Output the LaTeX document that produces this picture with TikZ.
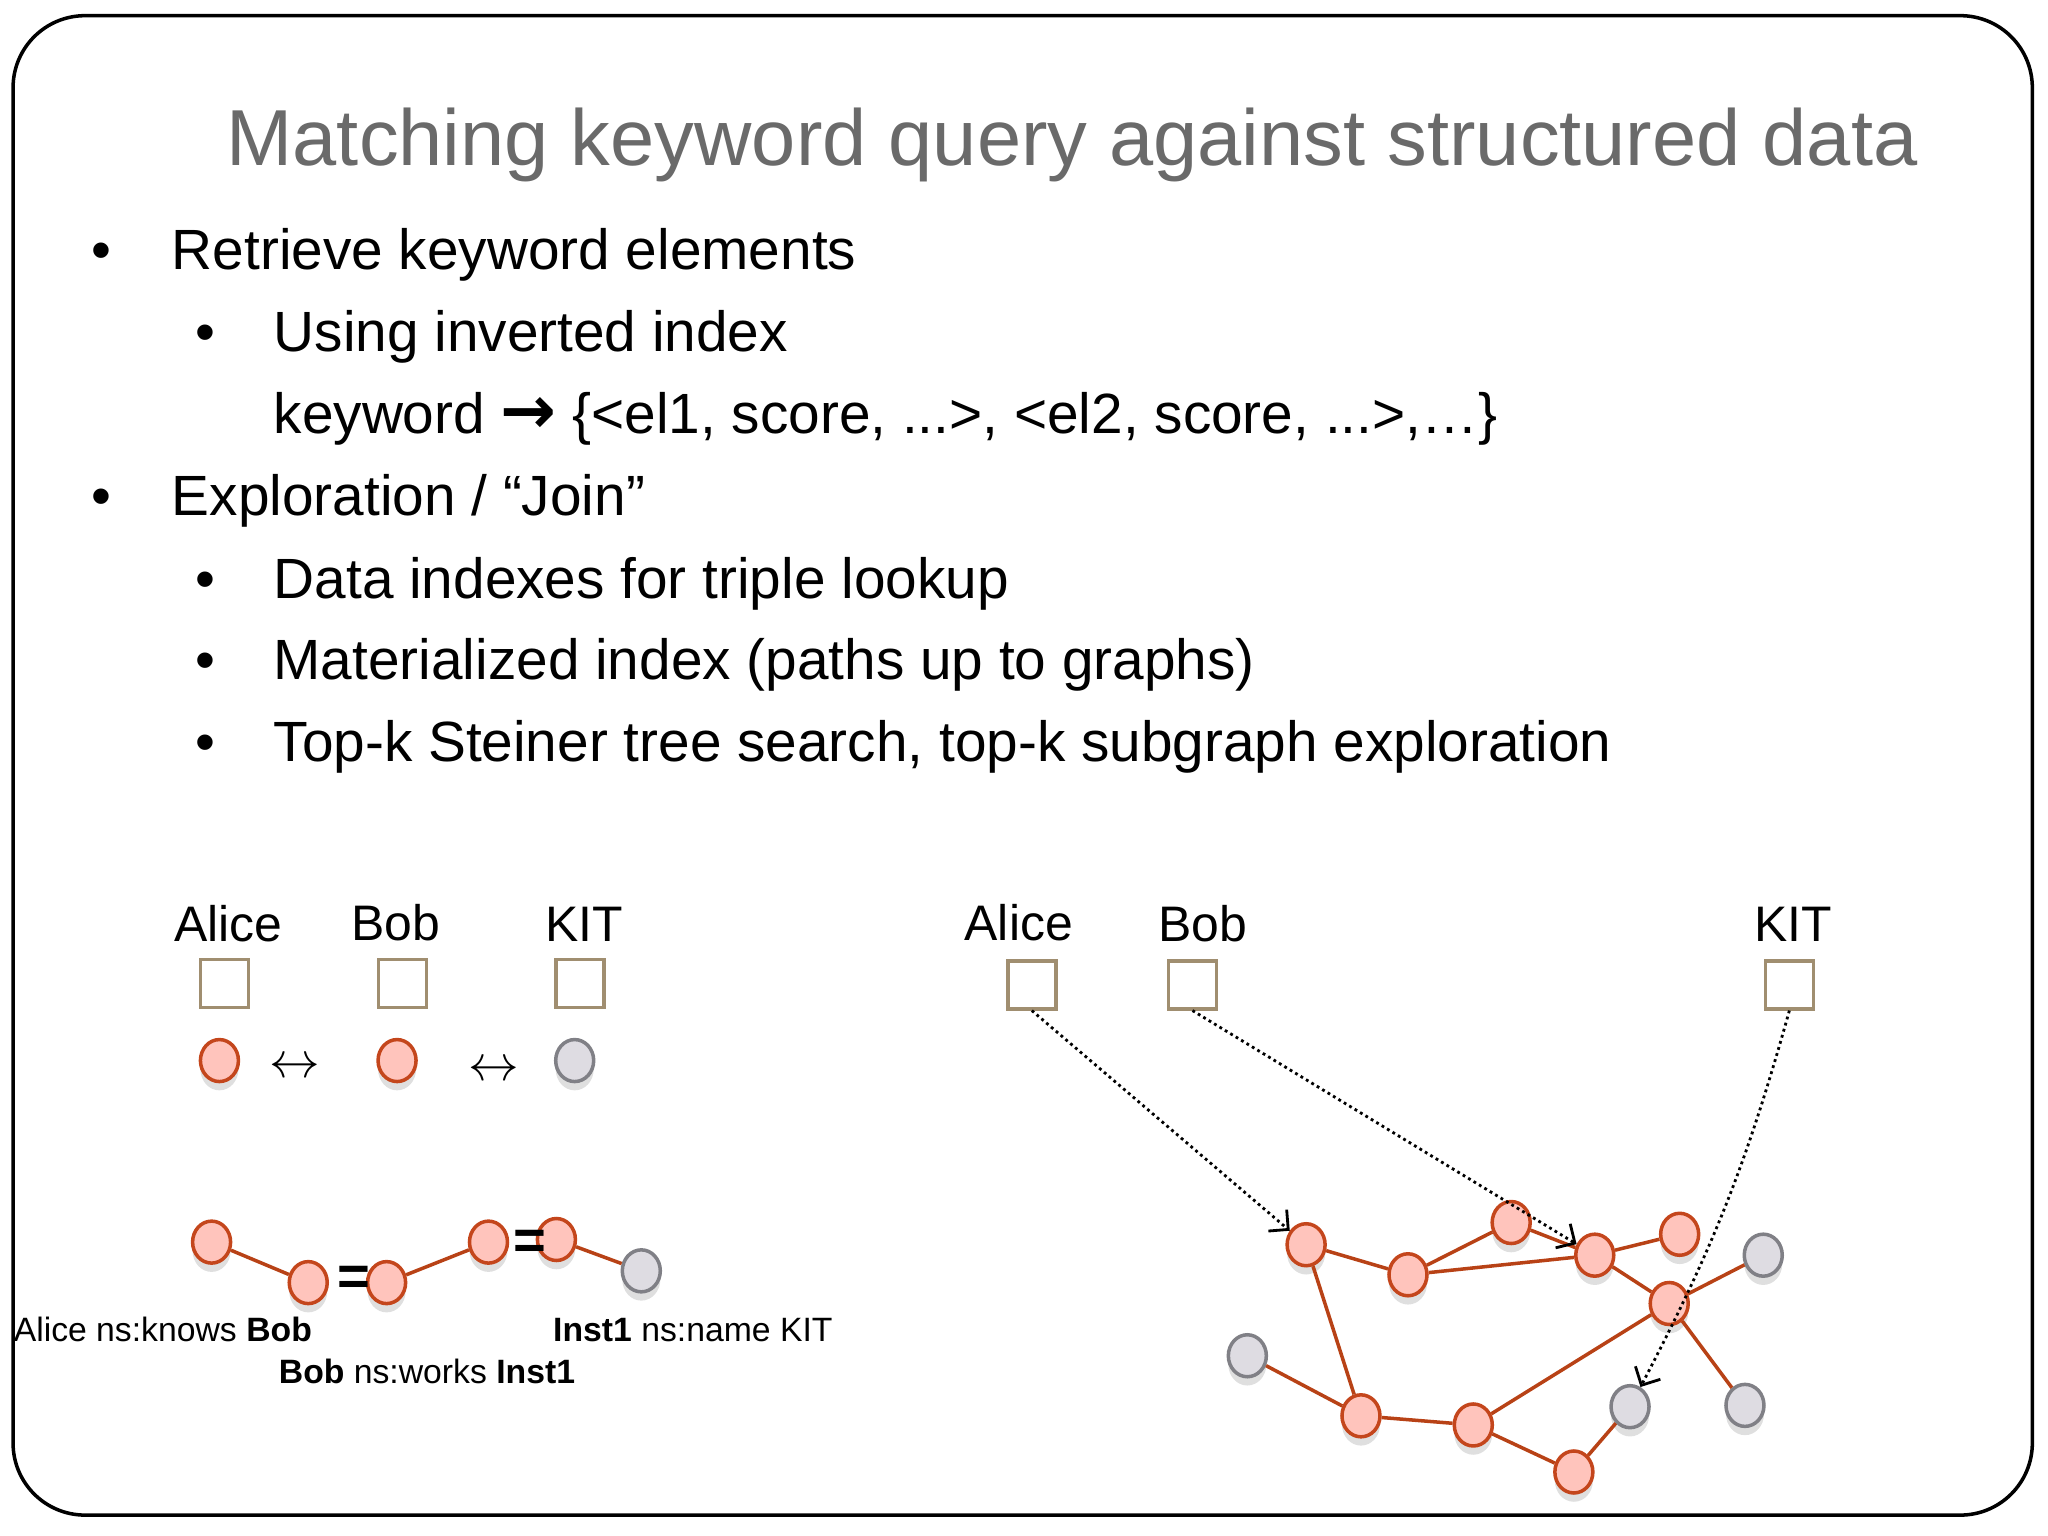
\documentclass[tikz,border=0pt]{standalone}
\usepackage{fontspec}
\setmainfont{Liberation Sans}
\newfontfamily\arrowfont{DejaVu Sans}
\usepackage{tikz}
\usetikzlibrary{shapes.geometric,shadows,arrows.meta}
\definecolor{titlegray}{RGB}{106,106,106}
\definecolor{pinkfill}{RGB}{255,196,188}
\definecolor{pinkdraw}{RGB}{196,70,28}
\definecolor{grayfill}{RGB}{222,220,226}
\definecolor{graydraw}{RGB}{128,128,134}
\definecolor{edgecol}{RGB}{184,66,22}
\definecolor{boxcol}{RGB}{160,142,112}

\begin{document}
\begin{tikzpicture}[x=0.013061cm,y=-0.013061cm,
  every node/.style={inner sep=0pt},
  item/.style={anchor=base west,font=\fontsize{16.15}{19}\selectfont},
  dot/.style={anchor=base,font=\fontsize{16.15}{19}\selectfont},
  kw/.style={anchor=base,font=\fontsize{14.2}{17}\selectfont},
  triple/.style={anchor=base west,font=\fontsize{9.6}{11}\selectfont},
  eq/.style={font=\fontsize{16}{19}\selectfont\bfseries},
  kwbox/.style={draw=boxcol,line width=1pt,minimum size=0.48cm},
  pnode/.style={ellipse,draw=pinkdraw,fill=pinkfill,line width=1pt,
    minimum width=0.38cm,minimum height=0.42cm,
    drop shadow={opacity=0.25,shadow xshift=0pt,shadow yshift=-2.5pt}},
  gnode/.style={pnode,draw=graydraw,fill=grayfill},
  link/.style={draw=edgecol,line width=1pt},
  hit/.style={densely dotted,line width=0.8pt,-{Straight Barb[length=4pt,width=8pt]}}]
  \useasboundingbox (0,0) rectangle (1568,1176);
  \draw[line width=1pt,rounded corners=0.72cm] (10,12) rectangle (1556,1160);

  \node[anchor=base west,text=titlegray,font=\fontsize{22.6}{27}\selectfont] (title) at (173,127) {Matching keyword query against structured data};

  \node[dot] at (78,206) {•};
  \node[item] (i1) at (131,206) {Retrieve keyword elements};
  \node[dot] at (157,269) {•};
  \node[item] (i2) at (209,269) {Using inverted index};
  \node[item] (i3) at (209,332) {keyword {\arrowfont\bfseries\fontsize{19}{19}\selectfont →} \{<el1, score, ...>, <el2, score, ...>,…\}};
  \node[dot] at (78,395) {•};
  \node[item] (i4) at (131,395) {Exploration / “Join”};
  \node[dot] at (157,458) {•};
  \node[item] (i5) at (209,458) {Data indexes for triple lookup};
  \node[dot] at (157,520) {•};
  \node[item] (i6) at (209,520) {Materialized index (paths up to graphs)};
  \node[dot] at (157,583) {•};
  \node[item] (i7) at (209,583) {Top-k Steiner tree search, top-k subgraph exploration};

  \node[kw] (la) at (175,721) {Alice};
  \node[kw] (lb) at (303,720) {Bob};
  \node[kw] (lk) at (447,721) {KIT};
  \node[kwbox] (lab) at (172,753) {};
  \node[kwbox] (lbb) at (308,753) {};
  \node[kwbox] (lkb) at (444,753) {};
  \node[pnode] (ea) at (168,812) {};
  \node[pnode] (eb) at (304,812) {};
  \node[gnode] (ek) at (440,812) {};
  \node[font=\fontsize{14}{17}\selectfont] at (226,818) {$\leftrightarrow$};
  \node[font=\fontsize{14}{17}\selectfont] at (378,820) {$\leftrightarrow$};

  \node[pnode] (t1) at (162,951) {};
  \node[pnode] (t2) at (236,982) {};
  \node[pnode] (t3) at (296,982) {};
  \node[pnode] (t4) at (374,951) {};
  \node[pnode] (t5) at (426,949) {};
  \node[gnode] (t6) at (491,973) {};
  \draw[link] (t1) -- (t2);
  \draw[link] (t3) -- (t4);
  \draw[link] (t5) -- (t6);
  \node[eq] at (271,981) {=};
  \node[eq] at (406,953) {=};
  \node[triple] at (10,1027) {Alice ns:knows \textbf{Bob}};
  \node[triple] at (213,1059) {\textbf{Bob} ns:works \textbf{Inst1}};
  \node[triple] at (423,1027) {\textbf{Inst1} ns:name KIT};

  \node[kw] (ra) at (780,720) {Alice};
  \node[kw] (rb) at (921,721) {Bob};
  \node[kw] (rk) at (1373,721) {KIT};
  \node[kwbox] (rab) at (790,754) {};
  \node[kwbox] (rbb) at (913,754) {};
  \node[kwbox] (rkb) at (1370,754) {};

  \node[pnode] (g1) at (1000,953) {};
  \node[pnode] (g2) at (1078,976) {};
  \node[pnode] (g3) at (1157,936) {};
  \node[pnode] (g4) at (1221,961) {};
  \node[pnode] (g5) at (1286,945) {};
  \node[gnode] (g6) at (1350,961) {};
  \node[pnode] (g7) at (1278,998) {};
  \node[gnode] (g8) at (955,1038) {};
  \node[pnode] (g9) at (1042,1084) {};
  \node[pnode] (g10) at (1128,1091) {};
  \node[gnode] (g11) at (1248,1077) {};
  \node[gnode] (g12) at (1336,1076) {};
  \node[pnode] (g13) at (1205,1127) {};
  \draw[link] (g1) -- (g2);
  \draw[link] (g2) -- (g3);
  \draw[link] (g2) -- (g4);
  \draw[link] (g3) -- (g4);
  \draw[link] (g4) -- (g5);
  \draw[link] (g4) -- (g7);
  \draw[link] (g7) -- (g6);
  \draw[link] (g7) -- (g12);
  \draw[link] (g7) -- (g10);
  \draw[link] (g1) -- (g9);
  \draw[link] (g8) -- (g9);
  \draw[link] (g9) -- (g10);
  \draw[link] (g10) -- (g13);
  \draw[link] (g13) -- (g11);

  \draw[hit] (rab.south) -- (g1);
  \draw[hit] (rbb.south) -- (g4);
  \draw[hit] (rkb.south) to[bend left=6] (g11);
\end{tikzpicture}
\end{document}
